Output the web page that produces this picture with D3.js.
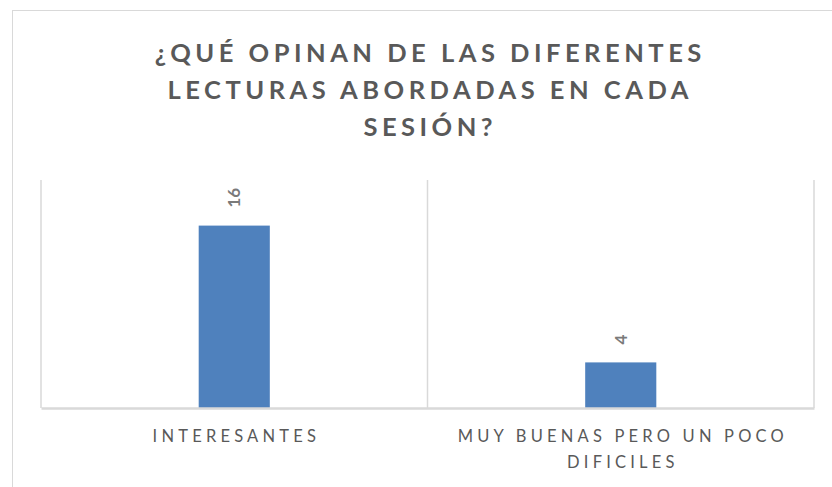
<!DOCTYPE html>
<html>
<head>
<meta charset="utf-8">
<script src="https://cdn.jsdelivr.net/npm/d3@7"></script>
<style>
  body { margin: 0; background: #fff; }
  svg { display: block; }
</style>
</head>
<body>
<script>
// data
const titleLines = ['¿QUÉ OPINAN DE LAS DIFERENTES', 'LECTURAS ABORDADAS EN CADA', 'SESIÓN?']
const categories = ['INTERESANTES', 'MUY BUENAS PERO UN POCO DIFICILES']
const values = [16, 4]
const yMax = 20

const width = 832
const height = 487
const plot = { left: 41, right: 814, top: 180, bottom: 408 }

const svg = d3.select('body')
  .append('svg')
  .attr('width', width)
  .attr('height', height)

// chart frame (runs off the right and bottom edge)
svg.append('rect')
  .attr('x', 12.5)
  .attr('y', 10.5)
  .attr('width', 840)
  .attr('height', 500)
  .attr('fill', '#fff')
  .attr('stroke', '#d9d9d9')
  .attr('stroke-width', 1)

const xScale = d3.scaleBand()
  .domain(categories)
  .range([plot.left, plot.right])
  .padding(0)

const yScale = d3.scaleLinear()
  .domain([0, yMax])
  .range([plot.bottom, plot.top])

//vertical category dividers
const dividers = categories.map((c) => xScale(c)).concat([plot.right])
svg.selectAll('line.divider')
  .data(dividers)
  .enter()
  .append('line')
  .attr('class', 'divider')
  .attr('x1', (d) => d)
  .attr('x2', (d) => d)
  .attr('y1', yScale(yMax))
  .attr('y2', yScale(0))
  .attr('stroke', '#d9d9d9')
  .attr('stroke-width', 1.5)

const barWidth = xScale.bandwidth() * 0.184

svg.selectAll('rect.bar')
  .data(values)
  .enter()
  .append('rect')
  .attr('class', 'bar')
  .attr('x', (d, i) => xScale(categories[i]) + xScale.bandwidth() / 2 - barWidth / 2)
  .attr('y', (d) => yScale(d))
  .attr('width', barWidth)
  .attr('height', (d) => yScale(0) - yScale(d))
  .attr('fill', '#4f81bd')

// baseline axis
const xAxis = d3.axisBottom(xScale).tickSize(0).tickFormat('')
const axisG = svg.append('g')
  .attr('transform', 'translate(0,' + yScale(0) + ')')
  .call(xAxis)
axisG.select('.domain').attr('stroke', '#d9d9d9').attr('stroke-width', 2.5)

// rotated value labels
svg.selectAll('text.value')
  .data(values)
  .enter()
  .append('text')
  .attr('class', 'value')
  .attr('transform', (d, i) => 'translate(' + (xScale(categories[i]) + xScale.bandwidth() / 2) + ',' + (yScale(d) - 18) + ') rotate(-90)')
  .attr('dy', '0.36em')
  .attr('text-anchor', 'start')
  .attr('font-family', 'Lato, "Open Sans", sans-serif')
  .attr('font-weight', 'bold')
  .attr('font-size', '17px')
  .attr('fill', '#7a7a7a')
  .text((d) => d)

// category labels, wrapped to the band width
function wrapWords(text, maxWidth, measure) {
  const words = text.split(' ')
  const lines = []
  let line = ''
  words.forEach((w) => {
    const test = line ? line + ' ' + w : w
    if (line && measure(test) > maxWidth) {
      lines.push(line)
      line = w
    } else {
      line = test
    }
  })
  if (line) lines.push(line)
  return lines
}

const labelSpacing = 4.2
categories.forEach((c) => {
  const t = svg.append('text')
    .attr('x', xScale(c) + xScale.bandwidth() / 2 + labelSpacing / 2)
    .attr('y', 442)
    .attr('text-anchor', 'middle')
    .attr('font-family', 'Lato, "Open Sans", sans-serif')
    .attr('font-size', '16.5px')
    .attr('letter-spacing', labelSpacing + 'px')
    .attr('fill', '#595959')
  const measure = (s) => {
    t.text(s)
    return t.node().getComputedTextLength()
  }
  const lines = wrapWords(c, xScale.bandwidth() * 0.9, measure)
  t.text(null)
  lines.forEach((l, i) => {
    t.append('tspan')
      .attr('x', xScale(c) + xScale.bandwidth() / 2 + labelSpacing / 2)
      .attr('dy', i === 0 ? 0 : 26)
      .text(l)
  })
})

// title
const titleSpacing = 4.5
svg.selectAll('text.title')
  .data(titleLines)
  .enter()
  .append('text')
  .attr('class', 'title')
  .attr('x', 428 + titleSpacing / 2)
  .attr('y', (d, i) => 62 + i * 37)
  .attr('text-anchor', 'middle')
  .attr('font-family', 'Lato, "Open Sans", sans-serif')
  .attr('font-weight', 'bold')
  .attr('font-size', '25.5px')
  .attr('letter-spacing', titleSpacing + 'px')
  .attr('fill', '#595959')
  .text((d) => d)
</script>
</body>
</html>
